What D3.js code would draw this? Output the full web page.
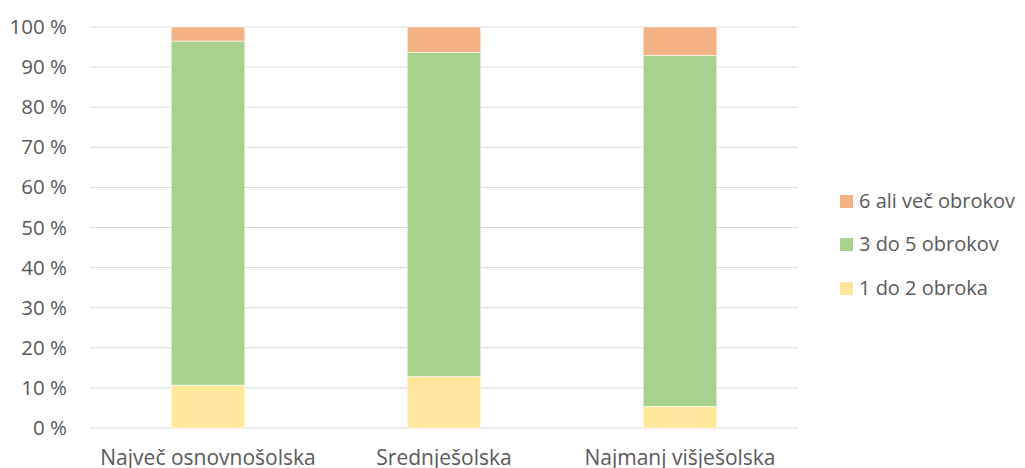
<!DOCTYPE html>
<html>
<head>
<meta charset="utf-8">
<script src="https://cdn.jsdelivr.net/npm/d3@7"></script>
<style>
  body { margin: 0; background: #fff; }
  text { font-family: "Open Sans", "Noto Sans", sans-serif; fill: #595959; }
</style>
</head>
<body>
<svg id="chart" width="1025" height="468"></svg>
<script>
// Data
const categories = ["Največ osnovnošolska", "Srednješolska", "Najmanj višješolska"];
const seriesNames = ["1 do 2 obroka", "3 do 5 obrokov", "6 ali več obrokov"];
const low = [10.7, 12.8, 5.4];
const mid = [85.8, 80.9, 87.5];
const high = [3.5, 6.3, 7.1];
const yTicks = [0, 10, 20, 30, 40, 50, 60, 70, 80, 90, 100];
const colors = ["#FFE699", "#A9D18E", "#F4B183"];

const plot = { left: 90, right: 798, top: 27, bottom: 428 };

const svg = d3.select("#chart");

const x = d3.scaleBand()
    .domain(categories)
    .range([plot.left, plot.right])
    .paddingInner(0.688)
    .paddingOuter(0.344);

const y = d3.scaleLinear()
    .domain([0, 100])
    .range([plot.bottom, plot.top]);

// Gridlines
svg.append("g")
    .selectAll("line")
    .data(yTicks)
    .enter()
    .append("line")
    .attr("x1", plot.left)
    .attr("x2", plot.right)
    .attr("y1", d => y(d))
    .attr("y2", d => y(d))
    .attr("stroke", "#D9D9D9")
    .attr("stroke-width", 1);

// Y labels
const yAxis = d3.axisLeft(y)
    .tickValues(yTicks)
    .tickFormat(d => d + " %")
    .tickSize(0)
    .tickPadding(0);

const yg = svg.append("g")
    .attr("transform", `translate(67,0)`)
    .call(yAxis);
yg.select(".domain").remove();
yg.selectAll("text")
    .attr("font-size", 20.5)
    .attr("font-family", "Open Sans, sans-serif")
    .attr("fill", "#595959");

// Stack
const table = categories.map((c, i) => ({
    cat: c,
    [seriesNames[0]]: low[i],
    [seriesNames[1]]: mid[i],
    [seriesNames[2]]: high[i]
}));
const stack = d3.stack().keys(seriesNames)(table);

svg.append("g")
    .selectAll("g")
    .data(stack)
    .enter()
    .append("g")
    .attr("fill", (d, i) => colors[i])
    .selectAll("rect")
    .data(d => d)
    .enter()
    .append("rect")
    .attr("x", d => x(d.data.cat))
    .attr("width", x.bandwidth())
    .attr("y", d => y(d[1]))
    .attr("height", d => y(d[0]) - y(d[1]))
    .attr("stroke", "#fff")
    .attr("stroke-width", 0.6);

// X labels
const xAxis = d3.axisBottom(x).tickSize(0).tickPadding(0);
const xg = svg.append("g")
    .attr("transform", `translate(0,${plot.bottom + 22})`)
    .call(xAxis);
xg.select(".domain").remove();
xg.selectAll("text")
    .attr("font-size", 21)
    .attr("font-family", "Open Sans, sans-serif")
    .attr("fill", "#595959");

// Legend (top to bottom: reversed order)
const legendY = [201, 244, 288];
const legend = svg.append("g")
    .selectAll("g")
    .data(seriesNames.slice().reverse())
    .enter()
    .append("g")
    .attr("transform", (d, i) => `translate(840,${legendY[i]})`);

legend.append("rect")
    .attr("x", 0)
    .attr("y", -6)
    .attr("width", 13)
    .attr("height", 13)
    .attr("fill", d => colors[seriesNames.indexOf(d)]);

legend.append("text")
    .attr("x", 19)
    .attr("y", 0)
    .attr("dy", "0.35em")
    .attr("font-size", 20)
    .text(d => d);
</script>
</body>
</html>
